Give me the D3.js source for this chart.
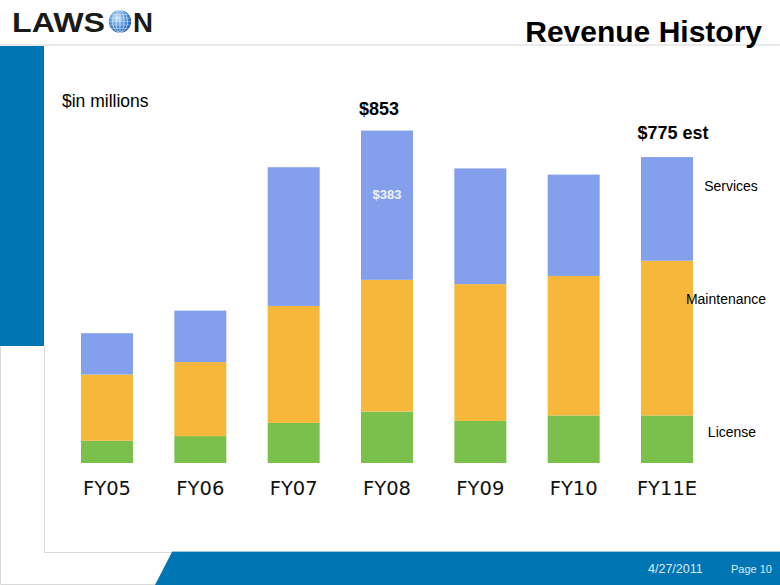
<!DOCTYPE html>
<html>
<head>
<meta charset="utf-8">
<script src="https://cdn.jsdelivr.net/npm/d3@7/dist/d3.min.js"></script>
<style>
html,body{margin:0;padding:0;background:#fff;}
svg{display:block;}
</style>
</head>
<body>
<svg id="c" width="780" height="585"></svg>
<script>
// ---- data ----
const categories = ["FY05","FY06","FY07","FY08","FY09","FY10","FY11E"];
const license     = [57, 69, 103, 132, 108, 122, 122];
const maintenance = [170, 190, 300, 338, 351, 358, 397];
const services    = [106, 132, 356, 383, 297, 260, 266];
const seriesNames = ["License","Maintenance","Services"];
const seriesColors = ["#7cc04c","#f7b73b","#849fec"];
const totalLabels = [{cat:"FY08", text:"$853"},{cat:"FY11E", text:"$775 est"}];
const innerLabel = {cat:"FY08", text:"$383"};

const svg = d3.select("#c");
const W = 780, H = 585;
const SANS = "Liberation Sans, Arial, sans-serif";

// ---- slide decoration ----
svg.append("rect").attr("x",0).attr("y",0).attr("width",W).attr("height",H).attr("fill","#fff");
svg.append("line").attr("x1",0).attr("x2",W).attr("y1",45).attr("y2",45).attr("stroke","#e3e3e3").attr("stroke-width",1.5);
svg.append("rect").attr("x",0).attr("y",46).attr("width",44).attr("height",300).attr("fill","#0075b4");
const frame = svg.append("g").attr("stroke","#d9d9d9").attr("stroke-width",1).attr("fill","none");
frame.append("path").attr("d","M44.5,346 L44.5,552.5 L172,552.5");
frame.append("path").attr("d","M0.5,346 L0.5,584.5 L156,584.5");
svg.append("path").attr("d","M172,552 L780,552 L780,585 L155,585 Z").attr("fill","#0075b4");
svg.append("line").attr("x1",172).attr("x2",780).attr("y1",551.5).attr("y2",551.5).attr("stroke","#9cc6e0").attr("stroke-width",1);
svg.append("text").attr("x",648).attr("y",573).attr("fill","#dce9f4")
  .style("font-family",SANS).style("font-size","12.5px").text("4/27/2011");
svg.append("text").attr("x",731).attr("y",573).attr("fill","#dce9f4")
  .style("font-family",SANS).style("font-size","11px").text("Page 10");

// logo
const logo = svg.append("g");
logo.append("text").attr("x",12).attr("y",32).attr("textLength",93).attr("lengthAdjust","spacingAndGlyphs")
  .attr("fill","#1a1a1a").style("font-family",SANS)
  .style("font-weight","bold").style("font-size","27px").text("LAWS");
logo.append("text").attr("x",133).attr("y",32).attr("textLength",20).attr("lengthAdjust","spacingAndGlyphs")
  .attr("fill","#1a1a1a").style("font-family",SANS)
  .style("font-weight","bold").style("font-size","27px").text("N");
const defs = svg.append("defs");
const rg = defs.append("radialGradient").attr("id","globe").attr("cx","0.38").attr("cy","0.35").attr("r","0.7");
rg.append("stop").attr("offset","0").attr("stop-color","#cfe6fa");
rg.append("stop").attr("offset","0.45").attr("stop-color","#5d9ee0");
rg.append("stop").attr("offset","1").attr("stop-color","#1b5aa8");
defs.append("clipPath").attr("id","gclip").append("circle").attr("cx",120).attr("cy",21.5).attr("r",11.2);
logo.append("circle").attr("cx",120).attr("cy",21.5).attr("r",11.2).attr("fill","url(#globe)");
const grid = logo.append("g").attr("clip-path","url(#gclip)").attr("stroke","#ffffff").attr("stroke-opacity",0.55).attr("stroke-width",0.6).attr("fill","none");
[-7,-3.5,0,3.5,7].forEach(d=>grid.append("ellipse").attr("cx",120).attr("cy",21.5).attr("rx",Math.abs(d)+0.5).attr("ry",11.2));
[-7,-3.5,0,3.5,7].forEach(d=>grid.append("line").attr("x1",108).attr("x2",132).attr("y1",21.5+d).attr("y2",21.5+d));

// title
svg.append("text").attr("x",762).attr("y",42).attr("text-anchor","end").attr("fill","#000")
  .style("font-family",SANS).style("font-weight","bold").style("font-size","30px")
  .text("Revenue History");

// ---- chart ----
const x = d3.scaleBand().domain(categories).range([60.33, 713.67]).paddingInner(0.443).paddingOuter(0.2215);
const y = d3.scaleLinear().domain([0, 900]).range([463, 463 - 900*0.3897]);

const table = categories.map((c,i)=>({cat:c, License:license[i], Maintenance:maintenance[i], Services:services[i]}));
const stack = d3.stack().keys(seriesNames)(table);

svg.append("g").selectAll("g").data(stack).join("g")
  .attr("fill",(d,i)=>seriesColors[i])
  .selectAll("rect").data(d=>d).join("rect")
  .attr("x",d=>x(d.data.cat))
  .attr("width",x.bandwidth())
  .attr("y",d=>y(d[1]))
  .attr("height",d=>y(d[0])-y(d[1]));

const xAxis = d3.axisBottom(x).tickSize(0).tickPadding(0);
const ax = svg.append("g").attr("transform","translate(0,481)").call(xAxis);
ax.select(".domain").remove();
ax.selectAll("text").attr("fill","#111").attr("dy","0.71em")
  .style("font-family","DejaVu Sans, Verdana, sans-serif").style("font-size","19.5px");

svg.append("text").attr("x",62).attr("y",107).attr("fill","#000")
  .style("font-family",SANS).style("font-size","17.5px").text("$in millions");

const tot = categories.map((c,i)=>license[i]+maintenance[i]+services[i]);
const totalDx = {FY08:-8, FY11E:6};
const totalDy = {FY08:-16, FY11E:-18};
totalLabels.forEach(t=>{
  const i = categories.indexOf(t.cat);
  svg.append("text").attr("x",x(t.cat)+x.bandwidth()/2+totalDx[t.cat]).attr("y",y(tot[i])+totalDy[t.cat])
    .attr("text-anchor","middle").attr("fill","#000")
    .style("font-family",SANS).style("font-weight","bold").style("font-size","18px")
    .text(t.text);
});
{
  const i = categories.indexOf(innerLabel.cat);
  const top = y(tot[i]);
  svg.append("text").attr("x",x(innerLabel.cat)+x.bandwidth()/2).attr("y",top+68)
    .attr("text-anchor","middle").attr("fill","#eef2ff")
    .style("font-family",SANS).style("font-weight","bold").style("font-size","13px")
    .text(innerLabel.text);
}

const seriesLabelPos = {License: [732,437], Maintenance: [726,304], Services: [731,191]};
seriesNames.forEach(s=>{
  svg.append("text").attr("x",seriesLabelPos[s][0]).attr("y",seriesLabelPos[s][1]).attr("text-anchor","middle").attr("fill","#000")
    .style("font-family",SANS).style("font-size","14px").text(s);
});
</script>
</body>
</html>
